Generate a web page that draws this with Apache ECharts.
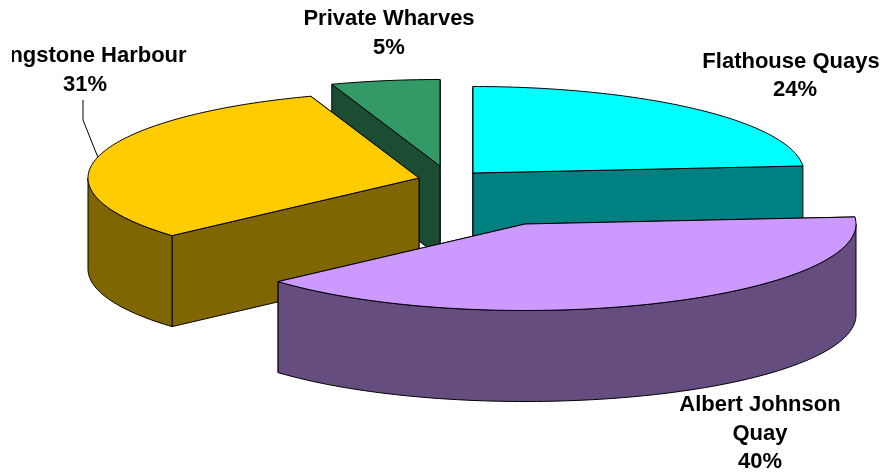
<!DOCTYPE html>
<html><head><meta charset="utf-8">
<style>html,body{margin:0;padding:0;background:#fff}#c{width:885px;height:474px}</style>
<script src="https://cdn.jsdelivr.net/npm/echarts@6/dist/echarts.min.js"></script>
</head><body><div id="c"></div>
<script>
// Data
const categories = ['Flathouse Quays', 'Albert Johnson\nQuay', 'Kingstone Harbour', 'Private Wharves'];
const shares = [23.7, 39.7, 31.3, 5.3];
// Styles
const topColors = ['#00FFFF', '#CC99FF', '#FFCC00', '#339966'];
const wallColors = ['#008080', '#654E7F', '#806600', '#1A4D33'];
// Layout
const drawOrder = [3, 0, 2, 1];
const apexes = [[473, 173], [525, 224], [419, 178], [440, 166]];
const nameAnchors = [[791, 47], [760, 390], [87, 41], [389, 4]];
const pctAnchors = [[795, 75], [760, 447], [85, 70], [389, 33]];
const rx = 331, ry = 86.5, depth = 91;
const leader = [[83, 100], [83, 120]];
const leaderSlice = 2, leaderAngle = 284;
const font = { fontSize: 22, fontWeight: 'bold', fontFamily: '"Liberation Sans", Arial, sans-serif', lineHeight: 29, align: 'center', verticalAlign: 'top', fill: '#000' };

const total = shares.reduce((a, b) => a + b, 0);
const startAngles = shares.map((_, i) => shares.slice(0, i).reduce((a, b) => a + b, 0) / total * 360);

function rim(i, deg) {
  const r = deg * Math.PI / 180;
  return [apexes[i][0] + rx * Math.sin(r), apexes[i][1] - ry * Math.cos(r)];
}
function arc(i, a, b) {
  const pts = [];
  for (let d = a; d < b; d += 1) pts.push(rim(i, d));
  pts.push(rim(i, b));
  return pts;
}
const down = p => [p[0], p[1] + depth];
const stroke = { stroke: '#000', lineWidth: 1, lineJoin: 'round' };

function renderItem(params, api) {
  const i = api.value(0);
  const a = startAngles[i];
  const b = a + api.value(1) / total * 360;
  const apex = apexes[i];
  const wall = Object.assign({ fill: wallColors[i] }, stroke);
  const children = [];
  const addWall = pts => children.push({ type: 'polygon', shape: { points: pts }, style: wall });
  // radial faces, the one further back first
  [a, b].sort((p, q) => rim(i, p)[1] - rim(i, q)[1]).forEach(d => {
    const p = rim(i, d);
    addWall([apex, p, down(p), down(apex)]);
  });
  // outer curved face: only the part facing the viewer (90..270 clockwise from top)
  const fa = Math.max(a, 90), fb = Math.min(b, 270);
  if (fb > fa) {
    const up = arc(i, fa, fb);
    addWall(up.concat(up.map(down).reverse()));
  }
  // top face
  children.push({
    type: 'polygon',
    shape: { points: [apex].concat(arc(i, a, b)) },
    style: Object.assign({ fill: topColors[i] }, stroke)
  });
  if (i === leaderSlice) {
    children.push({
      type: 'polyline',
      shape: { points: leader.concat([rim(i, leaderAngle)]) },
      style: { stroke: '#000', lineWidth: 1, fill: null }
    });
  }
  // labels
  const name = {
    type: 'text', z2: 100,
    style: Object.assign({ x: nameAnchors[i][0], y: nameAnchors[i][1], text: categories[i] }, font)
  };
  if (i === 2) name.clipPath = { type: 'rect', shape: { x: 12, y: 0, width: 400, height: 200 } };
  children.push(name);
  children.push({
    type: 'text', z2: 100,
    style: Object.assign({ x: pctAnchors[i][0], y: pctAnchors[i][1], text: Math.round(api.value(1) / total * 100) + '%' }, font)
  });
  return { type: 'group', children };
}

const chart = echarts.init(document.getElementById('c'), null, { renderer: 'canvas' });
chart.setOption({
  animation: false,
  backgroundColor: '#fff',
  series: [{
    type: 'custom',
    coordinateSystem: 'none',
    silent: true,
    renderItem,
    data: drawOrder.map(i => [i, shares[i]])
  }]
});
</script></body></html>
